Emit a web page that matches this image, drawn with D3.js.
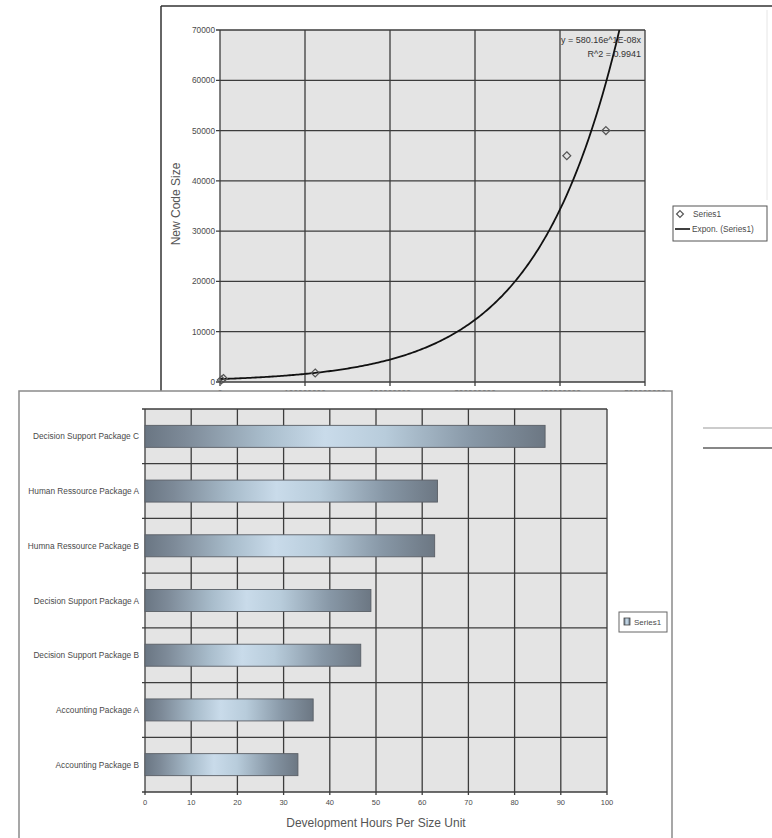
<!DOCTYPE html>
<html>
<head>
<meta charset="utf-8">
<script src="https://cdn.jsdelivr.net/npm/d3@7"></script>
<style>
  html, body { margin: 0; padding: 0; background: #fff; }
  svg { display: block; font-family: "Liberation Sans", Arial, sans-serif; }
</style>
</head>
<body>
<svg id="chart" width="772" height="838"></svg>
<script>
// ---- Scatter: new code size vs. x, with exponential trend ----
const scatterX = [1500000, 4000000, 112000000, 408000000, 454000000];
const scatterY = [400, 700, 1800, 45000, 50000];
const scatterXTicks = [0, 100000000, 200000000, 300000000, 400000000, 500000000];
const scatterYTicks = [0, 10000, 20000, 30000, 40000, 50000, 60000, 70000];
const trendA = [580.16];
const trendB = [1.02e-8];
const trendR2 = [0.9941];

// ---- Bars: development hours per size unit ----
const packages = [
  "Decision Support Package C",
  "Human Ressource Package A",
  "Humna Ressource Package B",
  "Decision Support Package A",
  "Decision Support Package B",
  "Accounting Package A",
  "Accounting Package B"
];
const hoursPerUnit = [86.6, 63.3, 62.7, 48.9, 46.7, 36.4, 33.1];
const hourTicks = [0, 10, 20, 30, 40, 50, 60, 70, 80, 90, 100];

const svg = d3.select("#chart");
const defs = svg.append("defs");

const gridColor = "#3c3c3c";
const plotFill = "#e4e4e4";
const textColor = "#4a4a4a";

// =================== scatter chart ===================
const upper = svg.append("g");
// frame edges
upper.append("line").attr("x1", 161).attr("x2", 772).attr("y1", 6).attr("y2", 6)
  .attr("stroke", "#333").attr("stroke-width", 1.5);
upper.append("line").attr("x1", 161).attr("x2", 161).attr("y1", 6).attr("y2", 391)
  .attr("stroke", "#333").attr("stroke-width", 1.5);
upper.append("line").attr("x1", 767).attr("x2", 767).attr("y1", 10).attr("y2", 200)
  .attr("stroke", "#e6e6e6").attr("stroke-width", 1);

const sx = d3.scaleLinear().domain([0, 500000000]).range([220, 645]);
const sy = d3.scaleLinear().domain([0, 70000]).range([382, 30]);

upper.append("rect").attr("x", sx(0)).attr("y", sy(70000))
  .attr("width", sx(500000000) - sx(0)).attr("height", sy(0) - sy(70000))
  .attr("fill", plotFill);

// grid
upper.append("g").selectAll("line").data(scatterYTicks).join("line")
  .attr("x1", sx(0) - 4).attr("x2", sx(500000000))
  .attr("y1", d => sy(d)).attr("y2", d => sy(d))
  .attr("stroke", gridColor).attr("stroke-width", 1.3);
upper.append("g").selectAll("line").data(scatterXTicks).join("line")
  .attr("x1", d => sx(d)).attr("x2", d => sx(d))
  .attr("y1", sy(70000)).attr("y2", sy(0) + 4)
  .attr("stroke", gridColor).attr("stroke-width", 1.3);

// y tick labels
upper.append("g").selectAll("text").data(scatterYTicks).join("text")
  .attr("x", sx(0) - 5).attr("y", d => sy(d) + 3)
  .attr("text-anchor", "end").attr("font-size", 8.3).attr("fill", textColor)
  .text(d => d);
// x tick labels (mostly hidden under the bar chart panel)
upper.append("g").selectAll("text").data(scatterXTicks).join("text")
  .attr("x", d => sx(d)).attr("y", 396)
  .attr("text-anchor", "middle").attr("font-size", 8.3).attr("fill", textColor)
  .text(d => d);

upper.append("text")
  .attr("transform", "translate(180,204) rotate(-90)")
  .attr("text-anchor", "middle").attr("font-size", 12).attr("fill", "#555")
  .text("New Code Size");

// trend curve
defs.append("clipPath").attr("id", "plotClip").append("rect")
  .attr("x", sx(0)).attr("y", sy(70000))
  .attr("width", sx(500000000) - sx(0)).attr("height", sy(0) - sy(70000));
const trendXs = d3.range(0, 500000001, 2000000);
const trendFn = x => trendA[0] * Math.exp(trendB[0] * x);
upper.append("path")
  .attr("clip-path", "url(#plotClip)")
  .attr("d", d3.line().x(d => sx(d)).y(d => sy(trendFn(d)))(trendXs))
  .attr("fill", "none").attr("stroke", "#111").attr("stroke-width", 1.8);

// points
const diamond = d3.symbol().type(d3.symbolDiamond2).size(40);
upper.append("g").selectAll("path").data(scatterX).join("path")
  .attr("transform", (d, i) => `translate(${sx(d)},${sy(scatterY[i])})`)
  .attr("d", diamond)
  .attr("fill", "none").attr("stroke", "#555").attr("stroke-width", 1.2);

// equation
const expLabel = v => {
  const [m, e] = v.toExponential(0).split("e");
  const n = Math.abs(+e);
  return m.toUpperCase() + "E" + (+e < 0 ? "-" : "+") + (n < 10 ? "0" + n : n);
};
upper.append("text").attr("x", 641).attr("y", 43).attr("text-anchor", "end")
  .attr("font-size", 9).attr("fill", "#333")
  .text(`y = ${trendA[0]}e^${expLabel(trendB[0])}x`);
upper.append("text").attr("x", 641).attr("y", 57).attr("text-anchor", "end")
  .attr("font-size", 9).attr("fill", "#333")
  .text(`R^2 = ${trendR2[0]}`);

// legend
const lg = upper.append("g");
lg.append("rect").attr("x", 673).attr("y", 206).attr("width", 94).attr("height", 35)
  .attr("fill", "#fff").attr("stroke", "#555").attr("stroke-width", 1);
lg.append("path").attr("transform", "translate(680,214)").attr("d", d3.symbol().type(d3.symbolDiamond2).size(30))
  .attr("fill", "none").attr("stroke", "#555").attr("stroke-width", 1.2);
lg.append("text").attr("x", 693).attr("y", 217).attr("font-size", 8.3).attr("fill", textColor).text("Series1");
lg.append("line").attr("x1", 675).attr("x2", 690).attr("y1", 229).attr("y2", 229)
  .attr("stroke", "#111").attr("stroke-width", 1.6);
lg.append("text").attr("x", 692).attr("y", 232).attr("font-size", 8.3).attr("fill", textColor).text("Expon. (Series1)");

// =================== bar chart ===================
const lower = svg.append("g");
lower.append("rect").attr("x", 19).attr("y", 391).attr("width", 653).attr("height", 460)
  .attr("fill", "#fff").attr("stroke", "#8a8a8a").attr("stroke-width", 1.5);

const bx = d3.scaleLinear().domain([0, 100]).range([145, 607]);
const by = d3.scaleBand().domain(packages).range([409, 792]);

lower.append("rect").attr("x", bx(0)).attr("y", 409)
  .attr("width", bx(100) - bx(0)).attr("height", 792 - 409).attr("fill", plotFill);

// category band boundaries
const bandEdges = packages.map(p => by(p)).concat([792]);
lower.append("g").selectAll("line").data(bandEdges).join("line")
  .attr("x1", bx(0) - 3).attr("x2", bx(100))
  .attr("y1", d => d).attr("y2", d => d)
  .attr("stroke", gridColor).attr("stroke-width", 1.3);
lower.append("g").selectAll("line").data(hourTicks).join("line")
  .attr("x1", d => bx(d)).attr("x2", d => bx(d))
  .attr("y1", 409).attr("y2", 795)
  .attr("stroke", gridColor).attr("stroke-width", 1.3);

// bar shading
const grad = defs.append("linearGradient").attr("id", "barGrad")
  .attr("x1", 0).attr("x2", 1).attr("y1", 0).attr("y2", 0);
[[0, "#6a7683"], [0.1, "#7d8a98"], [0.3, "#a9bdcc"], [0.45, "#c9dbea"], [0.6, "#b8ccdb"],
 [0.82, "#8797a6"], [1, "#6c7783"]].forEach(([o, c]) =>
  grad.append("stop").attr("offset", o).attr("stop-color", c));

const barH = 22;
lower.append("g").selectAll("rect").data(packages).join("rect")
  .attr("x", bx(0))
  .attr("y", d => by(d) + by.bandwidth() / 2 - barH / 2)
  .attr("width", (d, i) => bx(hoursPerUnit[i]) - bx(0))
  .attr("height", barH)
  .attr("fill", "url(#barGrad)").attr("stroke", "#5a5f66").attr("stroke-width", 0.9);

// category labels
lower.append("g").selectAll("text").data(packages).join("text")
  .attr("x", 139).attr("y", d => by(d) + by.bandwidth() / 2 + 3)
  .attr("text-anchor", "end").attr("font-size", 8.3).attr("fill", textColor)
  .text(d => d);

// x tick labels
lower.append("g").selectAll("text").data(hourTicks).join("text")
  .attr("x", d => bx(d)).attr("y", 805)
  .attr("text-anchor", "middle").attr("font-size", 7.5).attr("fill", textColor)
  .text(d => d);

lower.append("text").attr("x", 376).attr("y", 827).attr("text-anchor", "middle")
  .attr("font-size", 12).attr("fill", "#555").text("Development Hours Per Size Unit");

// legend
const bl = lower.append("g");
bl.append("rect").attr("x", 619).attr("y", 612).attr("width", 48).attr("height", 20)
  .attr("fill", "#fff").attr("stroke", "#666").attr("stroke-width", 1);
bl.append("rect").attr("x", 624).attr("y", 618).attr("width", 6).attr("height", 7)
  .attr("fill", "url(#barGrad)").attr("stroke", "#444").attr("stroke-width", 0.8);
bl.append("text").attr("x", 634).attr("y", 625).attr("font-size", 8).attr("fill", textColor).text("Series1");

// rules on the right margin
svg.append("line").attr("x1", 703).attr("x2", 772).attr("y1", 428).attr("y2", 428)
  .attr("stroke", "#999").attr("stroke-width", 1.2);
svg.append("line").attr("x1", 703).attr("x2", 772).attr("y1", 448).attr("y2", 448)
  .attr("stroke", "#111").attr("stroke-width", 1.2);
</script>
</body>
</html>
